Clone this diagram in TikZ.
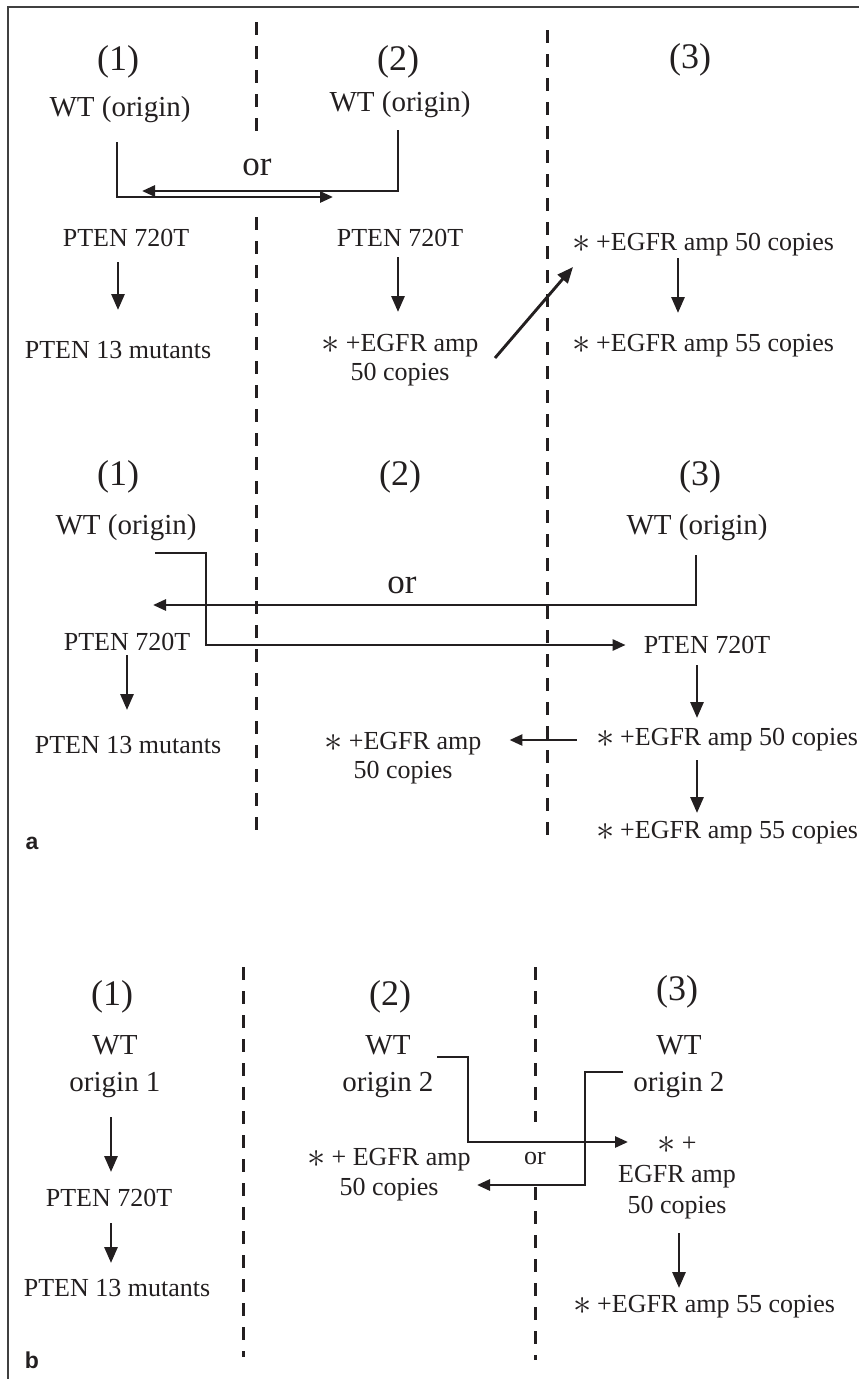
\RequirePackage{fix-cm}
\documentclass[tikz,border=0pt]{standalone}
\usepackage{fontspec}
\setmainfont{Liberation Serif}
\newfontfamily\panelfont{Liberation Sans}
\usetikzlibrary{arrows.meta, positioning}
\definecolor{ink}{HTML}{231F20}
\newcommand{\mstar}{\raisebox{-0.08em}{\scalebox{1.4}{$\ast$}}\kern6pt}

\begin{document}
\begin{tikzpicture}[x=1pt,y=-1pt,
		every node/.style={text=ink, inner sep=0pt, align=center},
		colhead/.style={font=\fontsize{36}{40}\selectfont},
		wtlabel/.style={font=\fontsize{29}{37}\selectfont},
		bodytext/.style={font=\fontsize{26}{29}\selectfont},
		orlabel/.style={font=\fontsize{35}{38}\selectfont},
		panel/.style={font=\panelfont\bfseries\fontsize{23}{25}\selectfont},
		arr/.style={draw=ink, line width=2.9pt, -{Triangle[length=16pt,width=13pt]}},
		arrsm/.style={draw=ink, line width=2.7pt, -{Triangle[length=13pt,width=11pt]}},
		divider/.style={draw=ink, line width=3pt, dash pattern=on 13pt off 11pt},
		panelframe/.style={draw=black!75, line width=1.8pt}]
	\useasboundingbox (0,0) rectangle (859,1379);
	\draw[panelframe] (8,1379) -- (8,7) -- (859,7);

	\draw[divider] (256,22) -- (256,135);
	\draw[divider] (256,217) -- (256,833);
	\draw[divider] (547,30) -- (547,838);
	\draw[divider] (243,967) -- (243,1357);
	\draw[divider] (535,967) -- (535,1122);
	\draw[divider] (535,1187) -- (535,1360);

	\coordinate(ax1a) at (118,0);
	\coordinate(ax2a) at (398,0);
	\coordinate(ax3a) at (678,0);
	\coordinate(ax1b) at (127,0);
	\coordinate(ax3b) at (697,0);
	\coordinate(ax1c) at (111,0);
	\coordinate(ax3c) at (679,0);

	\node(h1a) [colhead] at (118,62) {(1)};
	\node(w1a) [wtlabel] at (120,110) {WT (origin)};
	\node(or1) [orlabel] at (257,167) {or};
	\node(p1a) [bodytext] at (126,238) {PTEN 720T};
	\node(m1a) [bodytext] at (118,350) {PTEN 13 mutants};
	\node(h2a) [colhead] at (398,62) {(2)};
	\node(w2a) [wtlabel] at (400,105) {WT (origin)};
	\node(p2a) [bodytext] at (400,238) {PTEN 720T};
	\node(e2a) [bodytext] at (400,360) {\mstar +EGFR amp\\50 copies};
	\node(h3a) [colhead] at (690,60) {(3)};
	\node(e3a) [bodytext] at (703,245) {\mstar +EGFR amp 50 copies};
	\node(f3a) [bodytext] at (703,346) {\mstar +EGFR amp 55 copies};
	\coordinate(orR) at (333,197);
	\coordinate(orL) at (142,191);

	\draw[arrsm] ([xshift=-3pt,yshift=-32pt]w1a.center) |- (orR);
	\draw[arrsm] ([xshift=-2pt,yshift=-25pt]w2a.center) |- (orL);
	\draw[arr,shorten <=24pt,shorten >=40pt] (p1a -| ax1a) -- (m1a -| ax1a);
	\draw[arr,shorten <=19pt,shorten >=48pt] (p2a -| ax2a) -- (e2a -| ax2a);
	\draw[arr,shorten <=13pt,shorten >=33pt] (e3a -| ax3a) -- (f3a -| ax3a);
	\draw[arr] ([xshift=95pt,yshift=2pt]e2a.center) -- ([xshift=-130pt,yshift=-22pt]e3a.center);

	\node(h1b) [colhead] at (118,477) {(1)};
	\node(w1b) [wtlabel] at (126,528) {WT (origin)};
	\node(p1b) [bodytext] at (127,642) {PTEN 720T};
	\node(m1b) [bodytext] at (128,745) {PTEN 13 mutants};
	\node(h2b) [colhead] at (400,477) {(2)};
	\node(or2) [orlabel] at (402,585) {or};
	\node(e2b) [bodytext] at (403,758) {\mstar +EGFR amp\\50 copies};
	\node(h3b) [colhead] at (700,477) {(3)};
	\node(w3b) [wtlabel] at (697,528) {WT (origin)};
	\node(p3b) [bodytext] at (707,645) {PTEN 720T};
	\node(e3b) [bodytext] at (727,740) {\mstar +EGFR amp 50 copies};
	\node(f3b) [bodytext] at (727,833) {\mstar +EGFR amp 55 copies};
	\node(pa) [panel] at (32,843) {a};
	\coordinate(orT) at (153,605);

	\draw[arrsm] ([xshift=29pt,yshift=-25pt]w1b.center) -- ++(51,0) |- ([xshift=-18pt]p3b.west);
	\draw[arrsm] ([xshift=-1pt,yshift=-27pt]w3b.center) |- (orT);
	\draw[arr,shorten <=13pt,shorten >=35pt] (p1b -| ax1b) -- (m1b -| ax1b);
	\draw[arr,shorten <=20pt,shorten >=22pt] (p3b -| ax3b) -- (e3b -| ax3b);
	\draw[arr,shorten <=20pt,shorten >=20pt] (e3b -| ax3b) -- (f3b -| ax3b);
	\draw[arrsm,shorten <=19pt,shorten >=28pt] (e3b.west) -- (e3b.west -| e2b.east);

	\node(h1c) [colhead] at (112,997) {(1)};
	\node(w1c) [wtlabel] at (115,1067) {WT\\origin 1};
	\node(p1c) [bodytext] at (109,1198) {PTEN 720T};
	\node(m1c) [bodytext] at (117,1288) {PTEN 13 mutants};
	\node(h2c) [colhead] at (390,997) {(2)};
	\node(w2c) [wtlabel] at (388,1067) {WT\\origin 2};
	\node(e2c) [bodytext,font=\fontsize{26}{30}\selectfont] at (389,1175) {\mstar + EGFR amp\\50 copies};
	\node(or3) [bodytext] at (535,1158) {or};
	\node(h3c) [colhead] at (677,992) {(3)};
	\node(w3c) [wtlabel] at (679,1067) {WT\\origin 2};
	\node(e3c) [bodytext,font=\fontsize{26}{31}\selectfont] at (677,1178) {\mstar +\\EGFR amp\\50 copies};
	\node(f3c) [bodytext] at (704,1307) {\mstar +EGFR amp 55 copies};
	\node(pb) [panel] at (32,1360) {b};
	\coordinate(t3) at (628,1142);
	\coordinate(t4) at (477,1185);

	\draw[arrsm] ([xshift=49pt,yshift=10pt]w2c.center) -- ++(31,0) |- (t3);
	\draw[arrsm] ([xshift=-56pt,yshift=-5pt]w3c.center) -- ++(-38,0) |- (t4);
	\draw[arr,shorten <=50pt,shorten >=26pt] (w1c -| ax1c) -- (p1c -| ax1c);
	\draw[arr,shorten <=25pt,shorten >=25pt] (p1c -| ax1c) -- (m1c -| ax1c);
	\draw[arr,shorten <=55pt,shorten >=19pt] (e3c -| ax3c) -- (f3c -| ax3c);
\end{tikzpicture}
\end{document}
